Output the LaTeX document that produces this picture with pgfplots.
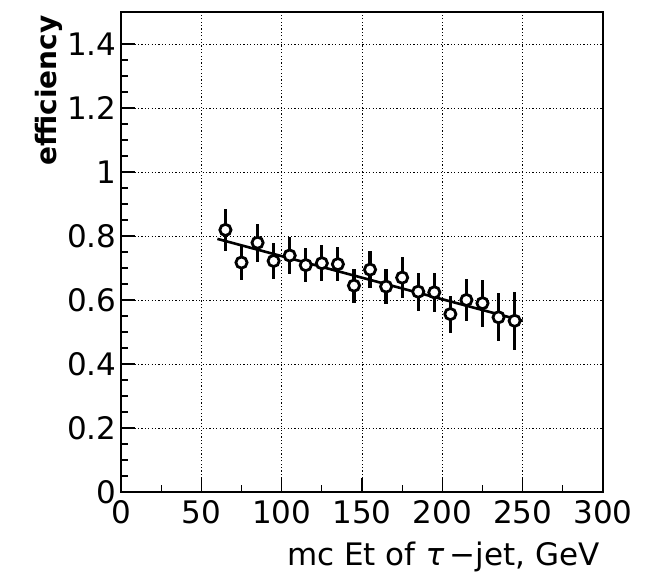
\documentclass[border=0pt]{standalone}
\usepackage{pgfplots}
\pgfplotsset{compat=1.18}
\usepackage{fontspec}
\setmainfont{DejaVu Sans}
\pgfplotstableread{
x y e
65 0.819 0.065
75 0.717 0.055
85 0.779 0.059
95 0.722 0.056
105 0.739 0.058
115 0.709 0.054
125 0.715 0.057
135 0.712 0.054
145 0.645 0.053
155 0.695 0.057
165 0.642 0.056
175 0.670 0.063
185 0.626 0.059
195 0.624 0.060
205 0.556 0.058
215 0.600 0.066
225 0.590 0.074
235 0.546 0.075
245 0.535 0.090
}\effdata
\begin{document}
\begin{tikzpicture}
\path[use as bounding box] (-121pt,-84pt) rectangle (541pt,492pt);
\begin{axis}[
  at={(0pt,0pt)}, anchor=south west,
  scale only axis, width=482pt, height=480pt,
  xmin=0, xmax=300, ymin=0, ymax=1.5,
  xtick={0,50,100,150,200,250,300},
  ytick={0,0.2,0.4,0.6,0.8,1,1.2,1.4},
  minor x tick num=1, minor y tick num=3,
  tick pos=left, tick align=inside,
  major tick length=14pt, minor tick length=7pt,
  every tick/.style={black, line width=1.3pt},
  grid=major,
  major grid style={black, line width=0.9pt, dash pattern=on 1.2pt off 2.2pt},
  axis line style={line width=2.2pt},
  ticklabel style={font=\fontsize{31}{31}\selectfont},
  /pgf/number format/assume math mode=true,
  xticklabel style={yshift=-5pt},
  yticklabel style={/pgf/number format/fixed, /pgf/number format/precision=1, xshift=-1pt},
  xlabel={mc Et of \textit{τ}\,−jet, GeV},
  xlabel style={font=\fontsize{31}{31}\selectfont, at={(axis description cs:1,0)}, anchor=base east, yshift=-73pt},
  ylabel={efficiency},
  ylabel style={font=\fontsize{28}{28}\selectfont\bfseries, at={(axis description cs:-0.1328,1)}, anchor=base east},
]
\addplot[black, only marks, mark=*, mark size=5.6pt,
  mark options={fill=white, draw=black, line width=2.8pt},
  error bars/.cd, y dir=both, y explicit, error mark=none,
  error bar style={line width=3.2pt, black}]
  table[x=x, y=y, y error=e] {\effdata};
\addplot[black, line width=2.6pt] coordinates {(60,0.791) (250,0.535)};
\end{axis}
\end{tikzpicture}
\end{document}
